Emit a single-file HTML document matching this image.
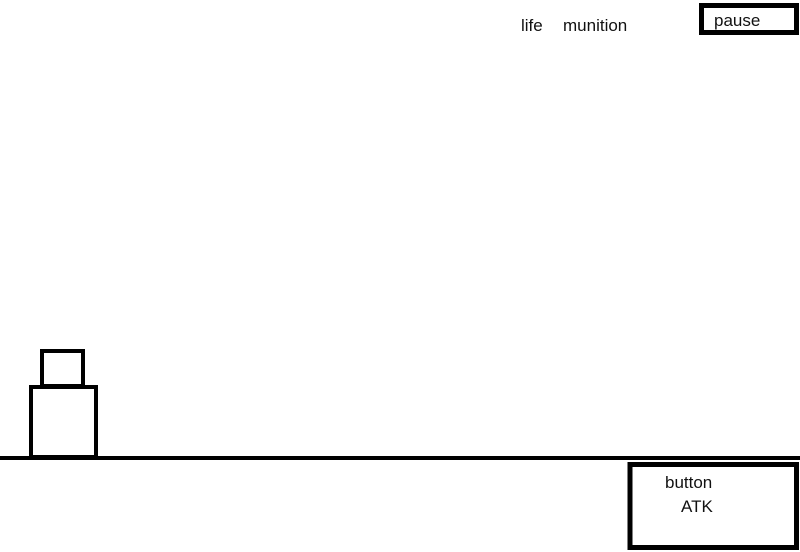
<!DOCTYPE html>
<html><head><meta charset="utf-8"><style>
html,body{margin:0;padding:0;background:#fff;width:800px;height:552px;overflow:hidden}
svg{display:block}
text{font-family:"Liberation Sans",sans-serif;font-size:17px;fill:#111}
</style></head><body>
<svg width="800" height="552" viewBox="0 0 800 552">
  <text x="521" y="31">life</text>
  <text x="563" y="31">munition</text>
  <g>
    <rect x="701.5" y="5.5" width="95" height="27" fill="none" stroke="#000" stroke-width="5"/>
    <text x="714" y="26">pause</text>
  </g>
  <rect x="42" y="351" width="41" height="35" fill="none" stroke="#000" stroke-width="4"/>
  <rect x="31" y="387" width="65" height="70" fill="none" stroke="#000" stroke-width="4"/>
  <rect x="0" y="456" width="800" height="4" fill="#000"/>
  <g>
    <rect x="630" y="464.5" width="166.5" height="83" fill="none" stroke="#000" stroke-width="5"/>
    <text x="665" y="488">button</text>
    <text x="681" y="512">ATK</text>
  </g>
</svg>
</body></html>
